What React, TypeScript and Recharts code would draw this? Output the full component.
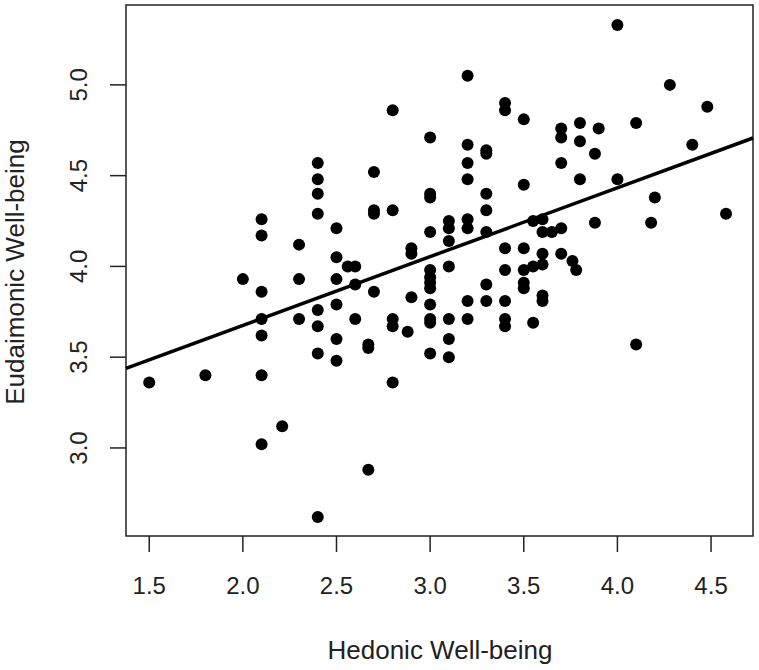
import React from 'react';
import { ScatterChart, Scatter, XAxis, YAxis, ReferenceArea, ReferenceLine } from 'recharts';

// Hedonic Well-being (x) and Eudaimonic Well-being (y), one entry per respondent
const hedonic = [
  1.5, 1.8, 2.0, 2.1, 2.1, 2.1, 2.1, 2.1, 2.1, 2.1,
  2.21, 2.3, 2.3, 2.3, 2.4, 2.4, 2.4, 2.4, 2.4, 2.4,
  2.4, 2.4, 2.5, 2.5, 2.5, 2.5, 2.5, 2.5, 2.56, 2.6,
  2.6, 2.6, 2.67, 2.67, 2.67, 2.7, 2.7, 2.7, 2.7, 2.8,
  2.8, 2.8, 2.8, 2.8, 2.9, 2.9, 2.9, 2.88, 3.0, 3.0,
  3.0, 3.0, 3.0, 3.0, 3.0, 3.0, 3.0, 3.0, 3.0, 3.0,
  3.1, 3.1, 3.1, 3.1, 3.1, 3.1, 3.1, 3.2, 3.2, 3.2,
  3.2, 3.2, 3.2, 3.2, 3.2, 3.3, 3.3, 3.3, 3.3, 3.3,
  3.3, 3.3, 3.4, 3.4, 3.4, 3.4, 3.4, 3.4, 3.4, 3.5,
  3.5, 3.5, 3.5, 3.5, 3.5, 3.55, 3.55, 3.55, 3.6, 3.6,
  3.6, 3.6, 3.6, 3.6, 3.65, 3.7, 3.7, 3.76, 3.78, 3.7,
  3.7, 3.7, 3.8, 3.8, 3.8, 3.9, 3.88, 3.88, 4.0, 4.0,
  4.1, 4.1, 4.2, 4.18, 4.28, 4.4, 4.48, 4.58,
];
const eudaimonic = [
  3.36, 3.40, 3.93, 4.26, 4.17, 3.86, 3.71, 3.62, 3.40, 3.02,
  3.12, 4.12, 3.93, 3.71, 4.57, 4.48, 4.40, 4.29, 3.76, 3.67,
  3.52, 2.62, 4.21, 4.05, 3.93, 3.79, 3.60, 3.48, 4.00, 4.00,
  3.90, 3.71, 3.57, 3.55, 2.88, 4.52, 4.31, 4.29, 3.86, 4.86,
  4.31, 3.71, 3.67, 3.36, 4.10, 4.07, 3.83, 3.64, 4.71, 4.40,
  4.38, 4.19, 3.98, 3.94, 3.91, 3.88, 3.79, 3.71, 3.69, 3.52,
  4.25, 4.21, 4.14, 4.00, 3.71, 3.60, 3.50, 5.05, 4.67, 4.57,
  4.48, 4.26, 4.21, 3.81, 3.71, 4.64, 4.62, 4.40, 4.31, 4.19,
  3.90, 3.81, 4.90, 4.86, 4.10, 3.98, 3.81, 3.71, 3.67, 4.81,
  4.45, 4.10, 3.98, 3.91, 3.88, 4.25, 4.00, 3.69, 4.26, 4.19,
  4.07, 4.01, 3.84, 3.81, 4.19, 4.21, 4.07, 4.03, 3.98, 4.76,
  4.71, 4.57, 4.79, 4.69, 4.48, 4.76, 4.62, 4.24, 5.33, 4.48,
  4.79, 3.57, 4.38, 4.24, 5.00, 4.67, 4.88, 4.29,
];

const xTicks = [1.5, 2.0, 2.5, 3.0, 3.5, 4.0, 4.5];
const yTicks = [3.0, 3.5, 4.0, 4.5, 5.0];
const xDomain: [number, number] = [1.376, 4.724];
const yDomain: [number, number] = [2.515, 5.44];

// fitted regression line: eudaimonic = intercept + slope * hedonic
const fitIntercept = 2.917;
const fitSlope = 0.379;

const FONT = '"Liberation Sans", Arial, Helvetica, sans-serif';
const INK = '#222';

const points = hedonic.map((x, i) => ({ x, y: eudaimonic[i] }));

const YTick = (props: any) => {
  const { x, y, payload } = props;
  return (
    <text
      x={x}
      y={y}
      transform={`rotate(-90 ${x} ${y})`}
      textAnchor="middle"
      fontSize={24}
      fontFamily={FONT}
      fill={INK}
    >
      {Number(payload.value).toFixed(1)}
    </text>
  );
};

const Dot = (props: any) => <circle cx={props.cx} cy={props.cy} r={6} fill="#000" />;

export default function App() {
  return (
    <div style={{ position: 'absolute', left: 0, top: 0, width: 759, height: 670, background: '#fff' }}>
      <ScatterChart width={759} height={670} margin={{ top: 5, right: 6, bottom: 0, left: 0 }}>
        <XAxis
          type="number"
          dataKey="x"
          domain={xDomain}
          allowDataOverflow
          ticks={xTicks}
          tickFormatter={(v: number) => v.toFixed(1)}
          height={134}
          tickSize={16}
          tickMargin={25}
          axisLine={false}
          tickLine={{ stroke: INK, strokeWidth: 1.5 }}
          tick={{ fontSize: 24, fill: INK, fontFamily: FONT }}
          interval={0}
          label={{
            content: () => (
              <text x={440} y={659} textAnchor="middle" fontSize={26} fontFamily={FONT} fill={INK}>
                Hedonic Well-being
              </text>
            ),
          }}
        />
        <YAxis
          type="number"
          dataKey="y"
          domain={yDomain}
          allowDataOverflow
          ticks={yTicks}
          width={126}
          tickSize={16}
          tickMargin={23}
          axisLine={false}
          tickLine={{ stroke: INK, strokeWidth: 1.5 }}
          tick={<YTick />}
          interval={0}
          label={{
            content: () => (
              <text
                x={24}
                y={272}
                transform="rotate(-90 24 272)"
                textAnchor="middle"
                fontSize={26}
                fontFamily={FONT}
                fill={INK}
              >
                Eudaimonic Well-being
              </text>
            ),
          }}
        />
        <ReferenceArea
          x1={xDomain[0]}
          x2={xDomain[1]}
          y1={yDomain[0]}
          y2={yDomain[1]}
          fill="none"
          fillOpacity={0}
          stroke={INK}
          strokeWidth={1.5}
          strokeOpacity={1}
          ifOverflow="visible"
        />
        <Scatter data={points} shape={<Dot />} isAnimationActive={false} />
        <ReferenceLine
          segment={[
            { x: xDomain[0], y: fitIntercept + fitSlope * xDomain[0] },
            { x: xDomain[1], y: fitIntercept + fitSlope * xDomain[1] },
          ]}
          stroke="#000"
          strokeWidth={3.5}
          ifOverflow="visible"
        />
      </ScatterChart>
    </div>
  );
}
